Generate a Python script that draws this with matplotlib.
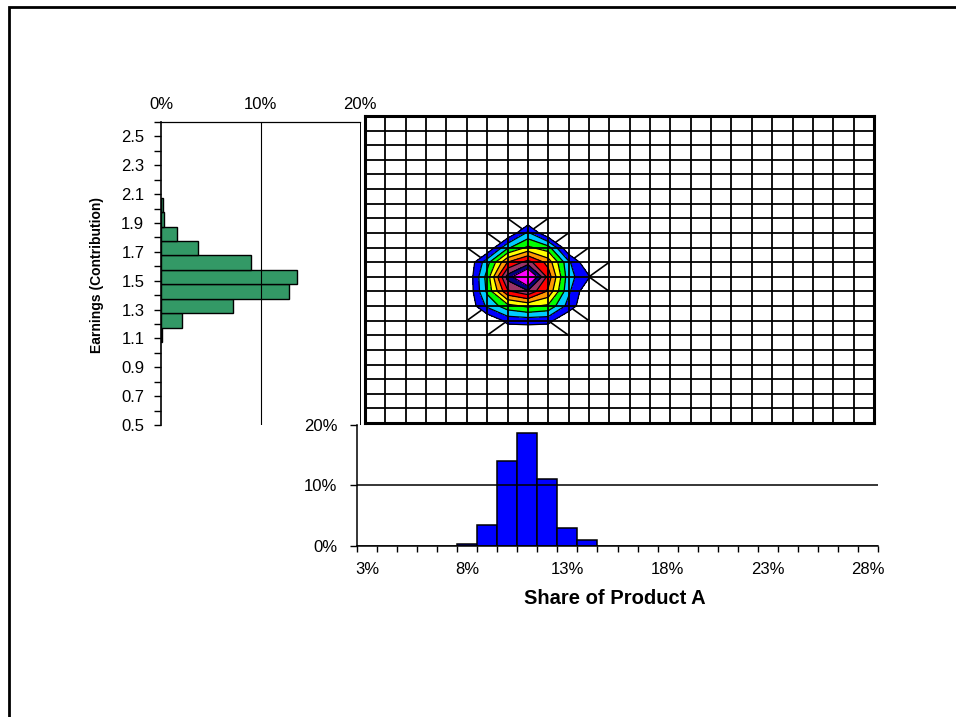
import numpy as np
import matplotlib
matplotlib.use('Agg')
import matplotlib.pyplot as plt
from matplotlib.patches import Rectangle

plt.rcParams['font.family'] = ['Liberation Sans', 'DejaVu Sans']

# --- data ---
# bottom histogram: share of product A (categories 3%..28%), percent of trials
share_labels = [f'{v}%' for v in range(3, 29)]
share_pct = [0, 0, 0, 0, 0, 0.3, 3.5, 14.0, 18.6, 11.0, 3.0, 0.9, 0,
             0, 0, 0, 0, 0, 0, 0, 0, 0, 0, 0, 0, 0]

# left histogram: earnings (contribution) bins, percent of trials
earn_centers = [1.125, 1.225, 1.325, 1.425, 1.525, 1.625, 1.725, 1.825, 1.925, 2.025]
earn_pct = [0.15, 2.1, 7.2, 12.9, 13.7, 9.0, 3.7, 1.6, 0.3, 0.2]

# contour grid (share % across, earnings up)
grid_x = list(range(3, 29))
grid_y = [0.5, 0.6, 0.7, 0.8, 0.9, 1.0, 1.1, 1.2, 1.3, 1.4, 1.5, 1.6, 1.7,
          1.8, 1.9, 2.0, 2.1, 2.2, 2.3, 2.4, 2.5, 2.6]
# non-zero part of the joint distribution
patch_x = [9, 10, 11, 12, 13, 14]
patch_y = [1.8, 1.7, 1.6, 1.5, 1.4, 1.3, 1.2]
patch_z = [
    [0.0, 0.0, 1.1, 0.0, 0.0, 0.0],
    [0.0, 1.4, 2.1, 1.7, 0.0, 0.0],
    [1.3, 3.0, 3.7, 2.8, 1.1, 0.0],
    [1.7, 4.2, 5.5, 3.3, 1.2, 0.55],
    [1.6, 3.4, 3.9, 2.9, 1.1, 0.0],
    [1.1, 1.8, 2.1, 1.9, 0.8, 0.0],
    [0.0, 0.65, 0.7, 0.65, 0.0, 0.0],
]
levels = [0.5, 1.0, 1.5, 2.0, 2.5, 3.0, 3.5, 4.0, 4.5, 6.0]
band_colors = ['#0000FF', '#00CCFF', '#00FF00', '#FFFF00', '#FF9900',
               '#FF0000', '#993366', '#000080', '#FF00FF']

Z = np.zeros((len(grid_y), len(grid_x)))
for r, yv in enumerate(patch_y):
    for c, xv in enumerate(patch_x):
        Z[grid_y.index(yv), grid_x.index(xv)] = patch_z[r][c]

W, H = 956, 717
fig = plt.figure(figsize=(W / 100, H / 100), dpi=100)


def box(left, top, right, bottom):
    return [left / W, 1 - bottom / H, (right - left) / W, (bottom - top) / H]


# outer frame (open at right and bottom)
fig.add_artist(Rectangle((9 / W, -0.1), 1.2, 1 - 6.5 / H + 0.1, transform=fig.transFigure,
                         fill=False, lw=2, ec='black'))

# ---- left histogram ----
ax_l = fig.add_axes(box(161, 122, 360, 425))
ax_l.barh(earn_centers, earn_pct, height=0.1, color='#339966', edgecolor='black', lw=1)
ax_l.set_xlim(0, 20)
ax_l.set_ylim(0.5, 2.6)
ax_l.xaxis.tick_top()
ax_l.set_xticks([0, 10, 20], ['0%', '10%', '20%'])
ax_l.axvline(10, color='black', lw=0.8)
yt = grid_y
ax_l.set_yticks(yt, [f'{v:.1f}' if i % 2 == 0 and v < 2.55 else '' for i, v in enumerate(yt)])
ax_l.tick_params(axis='y', length=5, width=1, pad=7, labelsize=12)
ax_l.tick_params(axis='x', length=0, pad=7, labelsize=12)
ax_l.spines['bottom'].set_visible(False)
ax_l.spines['left'].set_linewidth(1.2)
ax_l.spines['top'].set_linewidth(0.9)
ax_l.spines['right'].set_linewidth(0.7)

# ---- bottom histogram ----
ax_b = fig.add_axes(box(357, 425, 878, 545.7))
pos = np.arange(len(share_pct))
ax_b.bar(pos, share_pct, width=1, color='#0000FF', edgecolor='black', lw=1.1)
ax_b.set_xlim(-0.5, len(share_pct) - 0.5)
ax_b.set_ylim(0, 20)
ax_b.set_xticks(np.arange(len(share_pct) + 1) - 0.5, [''] * (len(share_pct) + 1))
ax_b.set_xticks(pos[::5], share_labels[::5], minor=True)
ax_b.tick_params(axis='x', which='major', length=4, width=1)
ax_b.tick_params(axis='x', which='minor', length=0, pad=12, labelsize=12)
ax_b.set_yticks([0, 10, 20], ['0%', '10%', '20%'])
ax_b.tick_params(axis='y', length=5, width=1, pad=9, labelsize=12)
ax_b.axhline(10, color='black', lw=1.1)
ax_b.spines['top'].set_visible(False)
ax_b.spines['right'].set_visible(False)
ax_b.spines['left'].set_linewidth(1.1)
ax_b.spines['bottom'].set_linewidth(1.1)

# ---- contour (top view of surface) ----
ax_c = fig.add_axes(box(365, 116, 874, 423))
X, Y = np.meshgrid(grid_x, grid_y)
# mesh edges at the edge of the surface (cells with a single non-zero corner)
for j in range(len(grid_y) - 1):
    for i in range(len(grid_x) - 1):
        cell = Z[j:j + 2, i:i + 2]
        nz = np.argwhere(cell > 0)
        if len(nz) == 1:
            jj, ii = nz[0]
            ax_c.plot([grid_x[i + 1 - ii], grid_x[i + ii]],
                      [grid_y[j + 1 - jj], grid_y[j + jj]],
                      color='black', lw=1.2, zorder=1)
ax_c.contourf(X, Y, Z, levels=levels, colors=band_colors, zorder=1.5)
ax_c.contour(X, Y, Z, levels=levels[:-1], colors='black', linewidths=0.9, zorder=2)
ax_c.set_xlim(grid_x[0], grid_x[-1])
ax_c.set_ylim(grid_y[0], grid_y[-1])
ax_c.set_xticks(grid_x)
ax_c.set_yticks(grid_y)
ax_c.tick_params(length=0, labelbottom=False, labelleft=False)
ax_c.set_axisbelow(False)
ax_c.grid(True, color='black', lw=1.3)
for s in ax_c.spines.values():
    s.set_linewidth(2.2)

fig.text(614.5 / W, 1 - 598 / H, 'Share of Product A', ha='center', va='center',
         fontsize=14.5, fontweight='bold')
fig.text(97 / W, 1 - 275 / H, 'Earnings (Contribution)', ha='center', va='center',
         rotation=90, fontsize=10, fontweight='bold')

fig.savefig('out.png', dpi=100)
